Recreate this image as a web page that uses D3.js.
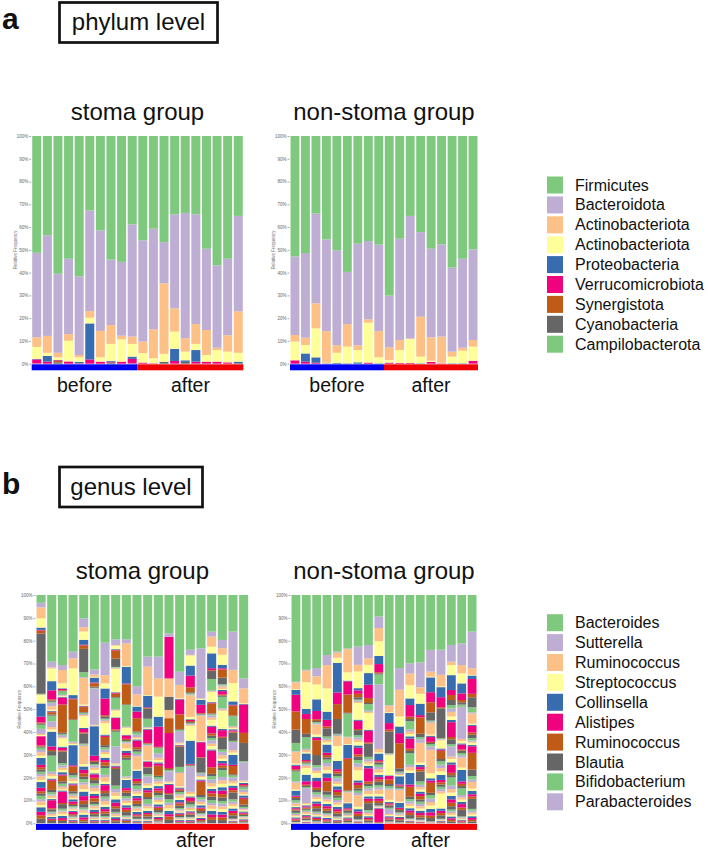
<!DOCTYPE html>
<html>
<head>
<meta charset="utf-8">
<script src="https://cdn.jsdelivr.net/npm/d3@7"></script>
<style>
  body { margin: 0; background: #fff; }
  text { font-family: "Liberation Sans", Arial, sans-serif; }
</style>
</head>
<body>
<div id="chart-area"></div>
<script>
// legend names, top of stack first
var phylumNames = ["Firmicutes", "Bacteroidota", "Actinobacteriota", "Actinobacteriota", "Proteobacteria",
    "Verrucomicrobiota", "Synergistota", "Cyanobacteria", "Campilobacterota"];
var genusNames = ["Bacteroides", "Sutterella", "Ruminococcus", "Streptococcus", "Collinsella",
    "Alistipes", "Ruminococcus", "Blautia", "Bifidobacterium", "Parabacteroides"];
var groupLabels = ["before", "after"];
var yTicks = [0, 10, 20, 30, 40, 50, 60, 70, 80, 90, 100];

// phylum level, one row per sample (%), columns in legend order
var phylumStoma = [
    [51.4, 37.2, 4.2, 5.3, 0.2, 1.8, 0, 0.1, 0],
    [43.6, 44.2, 7.4, 1.4, 2.5, 0.9, 0, 0, 0],
    [60.5, 34.7, 2.0, 1.1, 0.2, 0.3, 0.6, 0.6, 0],
    [53.9, 33.1, 2.9, 9.1, 0, 1.0, 0, 0, 0],
    [61.6, 34.6, 1.0, 2.0, 0.6, 0.2, 0, 0, 0],
    [32.7, 44.2, 2.9, 2.5, 15.8, 1.9, 0, 0, 0],
    [41.4, 44.2, 11.6, 1.9, 0, 0.9, 0, 0, 0],
    [54.3, 28.7, 8.3, 7.5, 0.3, 0.3, 0, 0.6, 0],
    [55.3, 32.4, 1.6, 9.8, 0, 0.9, 0, 0, 0],
    [38.8, 49.3, 3.2, 5.6, 1.0, 2.0, 0, 0.1, 0],
    [45.8, 44.5, 5.1, 4.1, 0, 0.5, 0, 0, 0],
    [40.7, 44.2, 12.7, 2.2, 0, 0.2, 0, 0, 0],
    [46.6, 18.1, 31.0, 3.5, 0, 0, 0, 0.8, 0],
    [34.4, 41.3, 10.2, 7.6, 5.3, 1.2, 0, 0, 0],
    [33.8, 55.0, 5.9, 3.8, 0.7, 0, 0, 0.8, 0],
    [34.4, 48.2, 8.7, 2.7, 5.1, 0.9, 0, 0, 0],
    [49.5, 35.7, 11.0, 2.9, 0, 0.9, 0, 0, 0],
    [56.8, 36.2, 1.0, 5.1, 0, 0.9, 0, 0, 0],
    [53.9, 33.6, 7.2, 4.7, 0, 0.6, 0, 0, 0],
    [35.1, 41.9, 18.2, 3.9, 0.6, 0, 0, 0.3, 0]
];
var phylumNonStoma = [
    [52.9, 34.5, 2.9, 8.2, 0, 1.5, 0, 0, 0],
    [51.4, 37.2, 3.2, 3.7, 3.6, 0.9, 0, 0, 0],
    [34.1, 39.4, 11.0, 12.7, 2.4, 0.4, 0, 0, 0],
    [45.4, 40.3, 13.9, 0.2, 0.2, 0, 0, 0, 0],
    [50.2, 41.7, 3.3, 4.5, 0.3, 0, 0, 0, 0],
    [59.7, 22.9, 9.9, 7.3, 0.2, 0, 0, 0, 0],
    [47.3, 44.6, 2.1, 5.4, 0.6, 0, 0, 0, 0],
    [46.1, 34.4, 1.5, 17.5, 0, 0.5, 0, 0, 0],
    [47.7, 38.0, 11.5, 2.6, 0.2, 0, 0, 0, 0],
    [70.1, 22.7, 5.6, 1.1, 0, 0.5, 0, 0, 0],
    [45.1, 44.5, 4.4, 5.7, 0, 0.3, 0, 0, 0],
    [35.1, 53.8, 0.3, 10.5, 0, 0.3, 0, 0, 0],
    [42.2, 37.2, 17.5, 2.9, 0.2, 0, 0, 0, 0],
    [49.5, 38.9, 10.3, 0.5, 0, 0.8, 0, 0, 0],
    [47.6, 40.5, 11.5, 0.2, 0, 0.2, 0, 0, 0],
    [57.8, 36.9, 2.2, 2.9, 0.2, 0, 0, 0, 0],
    [53.9, 39.1, 1.3, 5.5, 0.2, 0, 0, 0, 0],
    [49.8, 39.8, 2.9, 6.2, 0, 1.3, 0, 0, 0]
];

// genus level, one row per sample, 48 genera (top of stack first)
var genusStoma = [
    [3.4,2,4.8,4,1,0.3,1.3,26.3, 0.3,0,0.3,3.6,5.8,2.5,0.5,0.5, 1.8,2.2,0.5,0.5,0,4,0.5,0.5, 1,1,1.5,1,3,1,1,1, 1,1,1.5,1,2.5,1.5,1,1, 1.5,1,1.5,1,2,1.5,1.5,2],
    [29.2,2.5,0.5,5.5,4,4,0.5,0.5, 0.5,1.5,1.5,0.5,0.3,0.3,1,0.5, 2.5,2.5,1,1,6.5,1.5,0.5,2, 7,1,1,1,0.5,0.5,4,1, 1,0.5,1,0.5,0.5,3.5,0.5,1, 0.5,0.5,0.8,0.5,0.8,0.5,0.5,1],
    [30.7,2.2,5.8,2.2,0.3,0.5,0.3,0.3, 1.5,0.3,0.3,0.3,0.3,3,12.4,0.5, 0.5,1,0.5,3.6,0.5,1.2,0.5,5, 1,1,1,1,1,0.5,2.5,1, 1,0.5,1,0.5,0.5,5,0.5,2, 0.8,0.5,1,0.8,1,0.8,0.5,1],
    [24.8,2.9,4.4,11.7,1.5,0.3,8.8,0.3, 9.5,0.5,0.5,0.5,8.8,0.5,2.9,1, 1,0.5,1,1,0.5,0.5,2.5,1, 0.5,0.5,1,0.5,1,1,0.5,0.5, 0.5,0.5,0.5,0.5,0.5,1,0.5,0.5, 0.3,0.3,0.5,0.3,0.5,0.3,0.3,0.5],
    [10.2,3.9,1.9,3.6,2.2,0.3,1.5,10.2, 2.2,0.3,11.7,0.5,0.3,0.3,2.2,0.3, 0.5,0.5,0.5,5.1,0.5,1.5,0.5,4.4, 0.5,0.5,8,1,1.5,1.5,1.5,1, 1.5,1,2,1,2,2,1.5,1.5, 0.8,0.5,1,0.8,1.2,1,0.8,0.8],
    [32.8,2.2,1,0.3,2.2,0.3,1.5,0.5, 0.3,16,0.3,0.3,13,2.2,0.5,1, 0.5,1,1,1.5,0.5,1.5,1,1.5, 1,1,1.5,1,1,1,1.5,1, 0.5,0.5,1,0.5,1,0.5,0.5,1, 0.3,0.3,0.5,0.3,0.5,0.3,0.3,0.5],
    [20.9,14.2,3.6,2.2,4.4,7.3,0.5,1, 0.5,0.5,1,5,0.5,0.5,3.6,1, 1,1,1,1.5,1,1,1.5,1, 3,1,2,1,0.5,2.5,1,1.5, 1,1,1.5,1,1,1,1,1, 0.5,0.3,0.5,0.3,0.5,0.3,0.3,0.5],
    [19.4,2.5,0.3,1.5,0.3,0.3,3.6,3.6, 0.3,0.3,0.3,10.2,0.3,0.3,1.5,0.3, 5.1,0.3,0.3,2.9,0.3,5,0.5,0.5, 6.5,7.3,0.5,0.5,0.5,0.5,0.5,7.3, 1.5,1.5,1.5,1.5,1.5,1.5,1,1.5, 0.5,0.5,0.8,0.5,0.8,0.5,0.5,0.9],
    [19.4,1.8,10,0.3,7.3,0.3,8.8,0.3, 9.5,0.3,0.3,2.9,0.3,1.5,0.5,0.5, 0.5,0.5,2.2,1,1,1,1,1, 7.3,0.5,0.5,0.5,3.6,1,1,1.5, 1,1,1,1,1,1,1,1.5, 0.5,0.3,0.5,0.3,0.5,0.3,0.5,0.5],
    [40,3.6,5,0.3,2.2,2.9,5.8,0.5, 1,1,0.5,0.5,0.5,2.9,1,1, 1,1,5.8,0.5,3.6,1,1,1, 1.5,1,1,1,1,1,1.5,1, 0.5,0.5,1,0.5,1,0.5,0.5,1, 0.3,0.2,0.3,0.2,0.3,0.2,0.2,0.3],
    [27,4.4,12.4,0.3,5.1,0.3,0.3,4.4, 3.6,0.3,0.3,0.3,0.3,5.8,0.3,0.3, 0.3,0.3,6.5,0.3,0.3,2.2,0.3,2.9, 1,3,1,1,1,1,2,1, 2,1,1,1,1,0.5,1,1, 0.3,0.2,0.3,0.2,0.3,0.2,0.2,0.3],
    [27,9.5,8,8.8,4.4,8.8,0.3,0.3, 2.2,2,1,1,0.5,1,4.4,0.5, 1,1,1,1,1,1,1,1, 1,1,1,1,1,0.5,1,1, 0.5,0.5,0.5,0.5,0.5,0.5,0.5,0.5, 0.1,0.1,0.1,0.1,0.1,0.1,0.1,0.1],
    [16.8,1.5,0,0,0,18.2,0,0, 0,0,8,0,0,0,0,5.8, 0,0,3.6,0,0,0,6.5,0, 0,0,0,0,0,15.3,0.5,0.5, 0.5,4.4,0.5,0.5,0.5,3.6,0.5,2.2, 1.5,1,1.5,1,1.5,1,1.5,1.5],
    [33.6,5.8,5.8,0.3,0.3,6.5,6.5,0.3, 0.5,5,0.5,0.5,0.3,0.3,0.3,8.8, 2.2,0.5,5.8,0.5,0.5,0.5,0.5,0.5, 1,0.5,1,1,1,0.5,1,1, 0.5,0.5,0.5,0.5,0.5,0.5,0.5,0.5, 0.3,0.3,0.4,0.3,0.4,0.3,0.3,0.4],
    [24,2.2,0.3,4.4,4.4,5.1,2.2,0.5, 0.5,0.3,9.5,1,0.3,0.5,0.5,0.5, 0.3,0.3,0.5,6.5,10.2,0.3,0.3,0.3, 0.3,11,1,1,0.5,1.5,0.5,1, 1,0.5,1,0.5,0.5,0.5,0.5,1, 0.3,0.3,0.4,0.3,0.4,0.3,0.3,0.5],
    [23.4,21.9,0.3,0.3,2.2,3.6,0.3,0.3, 0.3,0.3,11,0.3,0.3,6.5,0.3,6.5, 0.5,1,0.5,1,0.5,0.5,5.8,1, 1,1,1,0.5,1,0.5,1,1, 0.5,0.5,0.5,0.5,0.5,0.5,0.5,0.5, 0,0,0.1,0,0.1,0,0.1,0.1],
    [16,2.2,4.4,2.9,6.5,0.8,0.3,3.6, 5.1,0.3,0.3,4.4,0.3,0.3,4.4,0.3, 0.5,1,1,2.5,0.5,2.9,1,1, 1,1.5,1,1.5,0.5,7.3,2.9,1, 1.5,1.5,1.5,1,1,1,1.5,1.5, 1.2,1,1.5,1,1.5,1.2,1.2,1.5],
    [19.7,3.6,2.9,4.4,1.5,0.5,3.6,2.9, 0.5,0.5,1,0.5,0.5,1.5,0.5,0.5, 5.1,0.5,0.5,8,0.5,2.9,0.5,5.1, 1,1.5,1.5,1,1,1,1,1, 3,1.5,1.5,1.5,1.5,1.5,1.5,1.5, 1.2,1.2,1.2,1.2,1.2,1.2,1.2,1.4],
    [16,16.8,5.8,8,1.5,0.3,4.4,0.3, 4.4,0.3,0.5,0.5,0.5,0.5,0.5,3.6, 0.5,3.6,1,1,4.4,0.5,3.6,0.5, 1,1.5,1,1,1,1,1,3, 1,1,1,1,1,1,1,1.5, 0.2,0.2,0.3,0.2,0.3,0.2,0.3,0.3],
    [36.5,4.4,6.5,0.3,0.3,12.4,4.4,8, 0.5,8,0.5,0.5,0.5,0.5,0.5,0.5, 1,1,1,0.5,1,0.5,2.5,1, 0.5,0.5,0.5,0.5,0.5,0.5,0.5,0.5, 0.3,0.3,0.5,0.3,0.3,0.3,0.3,0.5, 0,0,0.1,0,0.1,0,0.1,0.1]
];
var genusNonStoma = [
    [38,0.3,2.9,0.3,2.2,7.3,8,5.8, 3.6,0.3,5.1,0.5,0.5,1.5,0.5,0.5, 4.4,0.5,3,0.5,2.2,0.5,0.5,1, 1,0.5,1,0.5,0.5,0.5,0.5,1, 0.5,0.5,0.5,0.5,0.5,0.5,0.5,0.5, 0.1,0,0.1,0.1,0.1,0,0.1,0.1],
    [32.8,0.3,5.1,11.7,2.2,2.2,6.5,1.5, 5.1,0.5,1,0.5,2.9,0.5,0.5,0.5, 0.5,0.5,1,2.9,2.9,1.5,0.5,0.5, 0.5,6.5,0.5,0.5,0.5,0.5,0.5,0.5, 0.5,0.5,0.8,0.5,0.5,0.5,0.5,0.7, 0.2,0.1,0.2,0.2,0.2,0.2,0.1,0.2],
    [32,3.6,3.6,6.5,5.1,3.6,0.8,0.5, 0.5,0.5,4.4,1,0.5,1,6.5,4.4, 1,1.5,1,2,1.5,2.9,1,1, 1,1,1,1,1,1,1,1.5, 0.5,0.5,0.6,0.5,0.6,0.5,0.5,0.6, 0.1,0.1,0.1,0.1,0.1,0.1,0.1,0.1],
    [26.3,4.4,10.2,10.2,3.6,2.9,0.8,3.6, 1,0.5,1,1,3.6,1,1,1, 1.5,1.5,1.5,1.5,2,1.5,4.4,1.5, 1,1,1,1,1,1,1,1, 0.5,0.5,0.6,0.5,0.6,0.5,0.5,0.6, 0,0,0.1,0,0.1,0,0,0],
    [24.8,0.5,2.2,2.2,13,5.1,6.5,6.5, 0.5,0.5,4.4,6.5,3.6,1,1,1, 1,1.5,1,1,1.5,1,1.5,1, 1,1,1,1,1,1,1,1.2, 0.4,0.3,0.4,0.3,0.4,0.3,0.4,0.5, 0,0,0,0,0,0,0,0],
    [23.4,0.3,10.2,3.6,0.3,5.8,8,0.3, 10.2,0.3,2.9,0.3,5.8,0.3,13.9,0.3, 0.3,0.3,4.4,0.3,2.2,0.5,0.5,1, 0.5,0.5,0.5,0.5,0.5,0.5,0.5,0.6, 0.1,0,0.1,0,0.1,0,0.1,0.1, 0,0,0,0,0,0,0,0],
    [22.6,8,2.9,7.3,1,1.5,1.5,1, 0.5,0.5,0.5,7.3,0.5,3.6,0.5,2.2, 1,1,1,1.5,1,2.9,1,1.5, 1.5,1.5,1.5,4.4,1,1,1.5,1, 1,1,5.1,1,1,1,1,1.5, 0.2,0.2,0.2,0.2,0.2,0.2,0.2,0.3],
    [21.9,5.8,2.9,3.6,5.1,5.8,2.2,0.5, 2.9,0.5,0.5,7.3,0.5,5.1,0.5,5.8, 1,1,1,1,1,5.8,1,1, 1,1,1.5,1,1,1,1,3, 0.7,0.6,0.8,0.6,0.7,0.6,0.6,0.8, 0.1,0,0.1,0,0.1,0,0,0.1],
    [9.5,5.1,5.8,6.5,3.6,3.6,0.5,0.5, 4.4,28.5,1.5,0.5,2.9,0.5,0.5,1, 1,1,1.5,1,1,1,1,1.5, 1,1,2,1,1,1,1,1, 0.3,0.3,0.3,0.3,0.3,5.8,0.3,0.3, 0,0,0,0,0,0,0,0],
    [48.2,0.3,2.9,0.3,4.4,2.9,0.8,9.5, 0.3,0.3,0.3,8.8,0.3,1.5,2,1, 1,0.5,4.4,1,0.5,0.5,0.5,1, 0.5,2.2,0.5,0.5,0.5,0.5,0.5,0.8, 0.1,0.1,0.1,0.1,0.1,0.1,0.1,0.1, 0,0,0,0,0,0,0,0],
    [32,9.5,11.7,4.4,2.9,4.4,11,1.5, 0.5,0.5,0.5,0.5,3.6,0.5,0.5,0.5, 0.5,0.5,5,0.5,2.2,0.5,0.5,1, 0.5,0.5,0.5,0.5,0.5,0.5,0.5,0.8, 0.1,0,0.1,0,0.1,0,0.1,0.1, 0,0,0,0,0,0,0,0],
    [30,4.4,5.1,5.8,2.9,5.1,1,1, 3.6,1,1,1,1,4.4,1,1, 5.1,1,1.5,1,5.1,1,4.4,1, 1,1,1,1,1,1,1,1.5, 0.3,0.2,0.3,0.2,0.3,0.2,0.3,0.3, 0,0,0,0,0,0,0,0],
    [30,11,2.9,4.4,5.1,1,7.3,1.5, 1,1.5,8.8,1,1,1,1,4.4, 1.5,1,1,1,1,1,1.5,1, 1,1,1,1,1,1,1,1, 0.2,0.2,0.2,0.2,0.2,0.2,0.2,0.2, 0,0,0,0,0,0,0,0],
    [24,9.5,2.2,0.3,6.5,4.4,4.4,3.6, 0.5,0.5,5.1,0.5,0.5,2.2,0.5,0.5, 1,1.5,10.2,2.2,1,1,4.4,1, 1.5,1.5,1.5,1.5,1.5,1.5,1,1.5, 0.1,0.1,0.1,0.1,0.1,0.1,0.1,0.1, 0,0,0,0,0,0,0,0],
    [24,11,5.1,0.3,4.4,4.4,0.5,13.1, 0.3,0.3,0.3,3.6,0.5,0.5,3.6,1, 1.5,1.5,1.5,1.5,2.2,1,1,1, 1,1,1,6.5,1,1,1,1.5, 0.3,0.2,0.3,0.2,0.3,0.2,0.2,0.3, 0,0,0,0,0,0,0,0],
    [21.9,7.3,1.5,4.4,6.5,2.2,2.2,2.2, 1.5,1.5,2,1.5,1,6.5,1,2.2, 1,4.4,1,1.5,1,3.6,1,1, 3.6,1.5,1.5,1.5,1.5,1.5,1.5,1.5, 0.8,0.7,0.8,0.7,0.8,0.7,0.7,0.8, 0,0,0,0,0,0,0,0],
    [21.2,9.5,3.6,4.4,4.4,2.9,1,1, 1,14,1,1,0.5,2.2,0.5,1, 1,1,4.4,1,5.1,1,1,1, 2.9,1,1,1,1,1.5,1,2.9, 0.4,0.3,0.4,0.3,0.4,0.4,0.4,0.4, 0,0,0,0,0,0,0,0],
    [16,16,2.9,0.3,1.5,6.5,1.5,4.4, 2.2,0.5,4.4,0.5,0.5,2.9,1,1.5, 1,0.5,0.5,1,0.5,2.9,7.3,2.9, 1.5,1,2.9,1,1.5,1,1,4.4, 0.8,0.8,0.8,0.8,0.8,0.8,0.7,0.8, 0,0,0,0,0,0,0,0]
];

var colors = d3.schemeAccent;   // colour of taxon i is colors[i % 8]
var groupColors = ["#0000f0", "#f00000"];

var svg = d3.select("#chart-area")
    .append("svg")
    .attr("width", 709)
    .attr("height", 852);

function drawPanel(rows, nBefore, box, title, labelY) {
    var nKeys = rows[0].length;
    // first column on top of the stack
    var keys = d3.range(nKeys).reverse();
    var series = d3.stack()
        .keys(keys)
        .value(function(d, k) { return d[k] || 0; })
        .offset(d3.stackOffsetExpand)(rows);

    var x = d3.scaleBand()
        .domain(d3.range(rows.length))
        .range([box.left, box.right])
        .paddingInner(0.15)
        .paddingOuter(0.05);
    var y = d3.scaleLinear()
        .domain([0, 1])
        .range([box.bottom, box.top]);

    var g = svg.append("g");
    g.selectAll(".layer")
        .data(series)
        .enter().append("g")
        .attr("class", "layer")
        .attr("fill", function(d) { return colors[d.key % 8]; })
        .selectAll("rect")
        .data(function(d) { return d; })
        .enter().append("rect")
        .attr("x", function(d, i) { return x(i); })
        .attr("width", x.bandwidth())
        .attr("y", function(d) { return y(d[1]); })
        .attr("height", function(d) { return Math.max(0, y(d[0]) - y(d[1])); });

    // y axis
    var yAxis = d3.axisLeft(y)
        .tickValues(yTicks.map(function(t) { return t / 100; }))
        .tickFormat(function(d) { return Math.round(d * 100) + "%"; })
        .tickSize(2)
        .tickPadding(1);
    var ag = svg.append("g")
        .attr("transform", "translate(" + (box.left - 0.5) + ",0)")
        .call(yAxis);
    ag.select(".domain").remove();
    ag.selectAll("line").attr("stroke", "#aaa");
    ag.selectAll("text")
        .attr("font-size", 4.5)
        .attr("fill", "#666")
        .style("font-family", "Liberation Sans, Arial, sans-serif");

    svg.append("text")
        .attr("transform", "translate(" + (box.left - 15) + "," + ((box.top + box.bottom) / 2) + ") rotate(-90)")
        .attr("text-anchor", "middle")
        .attr("font-size", 4.5)
        .attr("fill", "#777")
        .text("Relative Frequency");

    // title
    svg.append("text")
        .attr("x", (box.left + box.right) / 2)
        .attr("y", box.top - 16)
        .attr("text-anchor", "middle")
        .attr("font-size", 24)
        .attr("fill", "#111")
        .text(title);

    // before / after strip
    var mid = (x(nBefore - 1) + x.bandwidth() + x(nBefore)) / 2;
    var spans = [[box.left, mid], [mid, box.right]];
    spans.forEach(function(s, i) {
        svg.append("rect")
            .attr("x", s[0])
            .attr("y", box.bottom + 0.6)
            .attr("width", s[1] - s[0])
            .attr("height", 6)
            .attr("fill", groupColors[i]);
        svg.append("text")
            .attr("x", (s[0] + s[1]) / 2)
            .attr("y", labelY)
            .attr("text-anchor", "middle")
            .attr("font-size", 19.5)
            .attr("fill", "#111")
            .text(groupLabels[i]);
    });
}

function drawLegend(names, x0, yCenter) {
    var lg = svg.append("g");
    names.forEach(function(n, i) {
        var cy = yCenter + i * 19.9;
        lg.append("rect")
            .attr("x", x0)
            .attr("y", cy - 8.5)
            .attr("width", 16)
            .attr("height", 17)
            .attr("fill", colors[i % 8]);
        lg.append("text")
            .attr("x", x0 + 28)
            .attr("y", cy + 5.5)
            .attr("font-size", 16)
            .attr("fill", "#111")
            .text(n);
    });
}

function drawHeader(letter, label, y0, boxW) {
    svg.append("text")
        .attr("x", 2)
        .attr("y", y0 + 28)
        .attr("font-size", 30)
        .attr("font-weight", "bold")
        .attr("fill", "#111")
        .text(letter);
    svg.append("rect")
        .attr("x", 59.5)
        .attr("y", y0 + 1.5)
        .attr("width", boxW)
        .attr("height", 40)
        .attr("fill", "none")
        .attr("stroke", "#111")
        .attr("stroke-width", 2.7);
    svg.append("text")
        .attr("x", 59.5 + boxW / 2)
        .attr("y", y0 + 29)
        .attr("text-anchor", "middle")
        .attr("font-size", 24)
        .attr("fill", "#111")
        .text(label);
}

drawHeader("a", "phylum level", 1, 158);
drawHeader("b", "genus level", 465.5, 143);

drawPanel(phylumStoma, 10, { left: 31.7, right: 243.3, top: 136, bottom: 363.7 }, "stoma group", 391.5);
drawPanel(phylumNonStoma, 9, { left: 290, right: 478, top: 136, bottom: 363.7 }, "non-stoma group", 391.5);
drawPanel(genusStoma, 10, { left: 36, right: 248.7, top: 595, bottom: 823.3 }, "stoma group", 846.5);
drawPanel(genusNonStoma, 9, { left: 291, right: 477, top: 595, bottom: 823.3 }, "non-stoma group", 846.5);

drawLegend(phylumNames, 547, 185);
drawLegend(genusNames, 547, 622.7);
</script>
</body>
</html>
